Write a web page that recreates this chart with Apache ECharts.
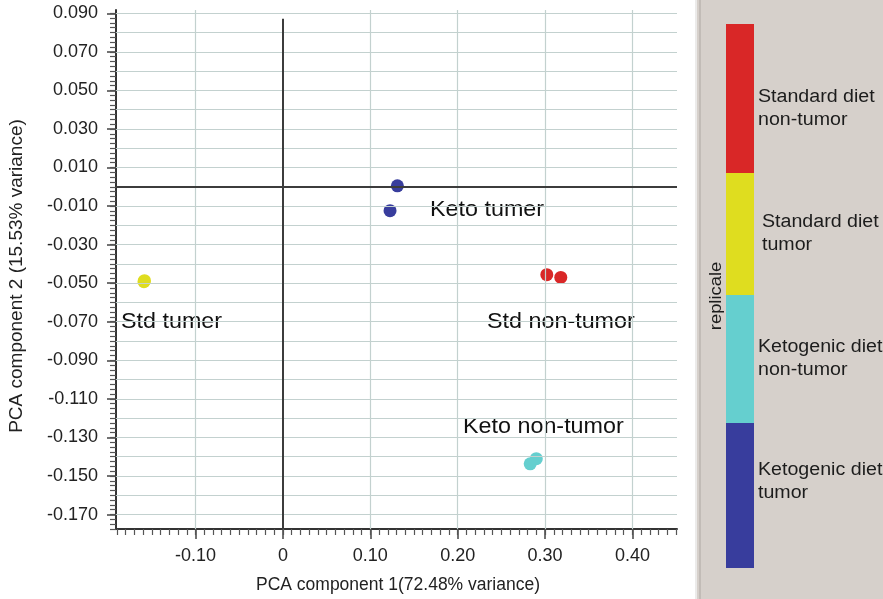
<!DOCTYPE html>
<html><head><meta charset="utf-8">
<script src="https://cdn.jsdelivr.net/npm/echarts@6/dist/echarts.min.js"></script>
<style>html,body{margin:0;padding:0;background:#fff}#c{width:883px;height:599px}</style>
</head><body><div id="c"></div>
<script>
// ---- data ----
const groupLegendLines = [['Standard diet','non-tumor'],['Standard diet','tumor'],['Ketogenic diet','non-tumor'],['Ketogenic diet','tumor']];
const groupNames = ['Standard diet non-tumor','Standard diet tumor','Ketogenic diet non-tumor','Ketogenic diet tumor'];
const groupColors = ['#d92727','#dfdd1f','#65cfcf','#383d9d'];
const stdNonTumorPC1 = [0.302, 0.318];
const stdNonTumorPC2 = [-0.0456, -0.0470];
const stdTumorPC1 = [-0.1590, -0.1584];
const stdTumorPC2 = [-0.0492, -0.0487];
const ketoNonTumorPC1 = [0.290, 0.283];
const ketoNonTumorPC2 = [-0.1410, -0.1437];
const ketoTumorPC1 = [0.131, 0.1226];
const ketoTumorPC2 = [0.0005, -0.0124];
const xTickLabels = [-0.10, 0, 0.10, 0.20, 0.30, 0.40];
const yTickLabels = [0.090, 0.070, 0.050, 0.030, 0.010, -0.010, -0.030, -0.050, -0.070, -0.090, -0.110, -0.130, -0.150, -0.170];
const xGridValues = [-0.10, 0.10, 0.20, 0.30, 0.40];
const yGridValues = [0.09, 0.08, 0.07, 0.06, 0.05, 0.04, 0.03, 0.02, 0.01, -0.01, -0.02, -0.03, -0.04, -0.05, -0.06, -0.07, -0.08, -0.09, -0.10, -0.11, -0.12, -0.13, -0.14, -0.15, -0.16, -0.17];
const xAxisTitle = 'PCA component 1(72.48% variance)';
const yAxisTitle = 'PCA component 2 (15.53% variance)';
const annotationTexts = ['Keto tumer', 'Std tumer', 'Std non-tumor', 'Keto non-tumor'];
const legendTitle = 'replicale';

// ---- layout ----
const X_MIN = -0.191, X_MAX = 0.451, Y_MIN = -0.1775, Y_MAX = 0.0917;
const ZERO_LINE_TOP = 0.0872;
const FONT = '"Liberation Sans", Arial, Helvetica, sans-serif';
const xMinorTicks = []; for (let k = -19; k <= 45; k++) xMinorTicks.push(k / 100);
const yMinorTicks = []; for (let k = -71; k <= 36; k++) yMinorTicks.push(k * 0.0025);

function pts(a, b) { return a.map((v, i) => [v, b[i]]); }
const seriesData = [
  pts(stdNonTumorPC1, stdNonTumorPC2),
  pts(stdTumorPC1, stdTumorPC2),
  pts(ketoNonTumorPC1, ketoNonTumorPC2),
  pts(ketoTumorPC1, ketoTumorPC2)
];

const gridColor = '#c3d1cf';
const zeroStyle = { color: '#3c3c3c', width: 2 };
const gridLineData = [
  ...yGridValues.map(v => ({ yAxis: v })),
  ...xGridValues.map(v => ({ xAxis: v })),
  { yAxis: 0, lineStyle: zeroStyle },
  [{ coord: [0, ZERO_LINE_TOP], lineStyle: zeroStyle }, { coord: [0, Y_MIN], lineStyle: zeroStyle }]
];

const chart = echarts.init(document.getElementById('c'), null, { renderer: 'canvas' });

const annPos = [[430, 210], [121, 322], [487, 322], [463, 427]];
const legendPos = [[758, 97], [762, 222], [758, 347], [758, 470]];
const barBounds = [24, 173, 295, 423, 568];

const graphics = [
  { type: 'rect', shape: { x: 695, y: 0, width: 188, height: 599 }, style: { fill: '#d6d0cb' }, z: 0 },
  { type: 'rect', shape: { x: 695, y: 0, width: 2, height: 599 }, style: { fill: '#ecebea' }, z: 1 },
  { type: 'rect', shape: { x: 699, y: 0, width: 2, height: 599 }, style: { fill: '#c2bcb7' }, z: 1 }
];
groupColors.forEach((c, i) => {
  graphics.push({ type: 'rect', shape: { x: 726, y: barBounds[i], width: 28, height: barBounds[i + 1] - barBounds[i] }, style: { fill: c }, z: 2 });
  groupLegendLines[i].forEach((t, j) => {
    graphics.push({ type: 'text', x: legendPos[i][0], y: legendPos[i][1] + j * 23, scaleX: 1.09, z: 3,
      style: { text: t, fontSize: 18, fontFamily: FONT, fill: '#1c1c1c', textAlign: 'left', align: 'left', textVerticalAlign: 'middle', verticalAlign: 'middle' } });
  });
});
graphics.push({ type: 'text', x: 716, y: 296, rotation: Math.PI / 2, scaleX: 1.08, z: 3,
  style: { text: legendTitle, fontSize: 17, fontFamily: FONT, fill: '#1c1c1c', textAlign: 'center', align: 'center', textVerticalAlign: 'middle', verticalAlign: 'middle' } });
annotationTexts.forEach((t, i) => {
  graphics.push({ type: 'text', x: annPos[i][0], y: annPos[i][1], scaleX: 1.06, z: 5,
    style: { text: t, fontSize: 22, fontFamily: FONT, fill: '#111', textAlign: 'left', align: 'left', textVerticalAlign: 'middle', verticalAlign: 'middle' } });
});
graphics.push({ type: 'text', x: 398, y: 585, z: 5,
  style: { text: xAxisTitle, fontSize: 17.5, fontFamily: FONT, fill: '#222', textAlign: 'center', align: 'center', textVerticalAlign: 'middle', verticalAlign: 'middle' } });
graphics.push({ type: 'text', x: 17, y: 276, rotation: Math.PI / 2, z: 5,
  style: { text: yAxisTitle, fontSize: 19, fontFamily: FONT, fill: '#222', textAlign: 'center', align: 'center', textVerticalAlign: 'middle', verticalAlign: 'middle' } });

const option = {
  backgroundColor: '#ffffff',
  animation: false,
  grid: { left: 116, right: 206, top: 10, bottom: 70, containLabel: false },
  xAxis: [
    { type: 'value', min: X_MIN, max: X_MAX, position: 'bottom',
      axisLine: { show: true, onZero: false, lineStyle: { color: '#333', width: 2 } },
      axisTick: { show: true, customValues: xTickLabels, length: 10, lineStyle: { color: '#444', width: 1.5 } },
      axisLabel: { show: true, customValues: xTickLabels, margin: 18, fontSize: 18, fontFamily: FONT, color: '#222',
        formatter: v => (Math.abs(v) < 1e-9 ? '0' : v.toFixed(2)) },
      splitLine: { show: false } },
    { type: 'value', min: X_MIN, max: X_MAX, position: 'bottom',
      axisLine: { show: false, onZero: false },
      axisTick: { show: true, customValues: xMinorTicks, length: 6, lineStyle: { color: '#555', width: 1.2 } },
      axisLabel: { show: false }, splitLine: { show: false } }
  ],
  yAxis: [
    { type: 'value', min: Y_MIN, max: Y_MAX, position: 'left',
      axisLine: { show: true, onZero: false, lineStyle: { color: '#333', width: 2 } },
      axisTick: { show: true, customValues: yTickLabels, length: 9, lineStyle: { color: '#444', width: 1.5 } },
      axisLabel: { show: true, customValues: yTickLabels, margin: 18, fontSize: 18, fontFamily: FONT, color: '#222',
        formatter: v => v.toFixed(3) },
      splitLine: { show: false } },
    { type: 'value', min: Y_MIN, max: Y_MAX, position: 'left',
      axisLine: { show: false, onZero: false },
      axisTick: { show: true, customValues: yMinorTicks, length: 6, lineStyle: { color: '#555', width: 1.2 } },
      axisLabel: { show: false }, splitLine: { show: false } }
  ],
  graphic: { elements: graphics },
  series: [
    { type: 'scatter', name: 'grid', data: [], z: 1, silent: true,
      markLine: { silent: true, animation: false, symbol: ['none', 'none'], label: { show: false },
        lineStyle: { type: 'solid', color: gridColor, width: 1.2 }, emphasis: { disabled: true }, data: gridLineData } },
    ...seriesData.map((d, i) => ({
      type: 'scatter', name: groupNames[i], data: d, symbolSize: 13, z: 4,
      itemStyle: { color: groupColors[i], opacity: 1 }
    }))
  ]
};
chart.setOption(option);
</script>
</body></html>
